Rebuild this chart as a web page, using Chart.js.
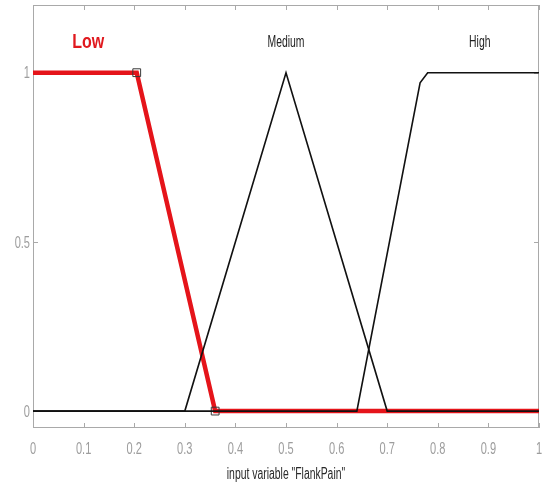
<!DOCTYPE html>
<html>
<head>
<meta charset="utf-8">
<script src="https://cdn.jsdelivr.net/npm/chart.js@4/dist/chart.umd.min.js"></script>
<style>
  body { margin: 0; background: #fff; }
  #wrap { width: 549px; height: 484px; }
</style>
</head>
<body>
<div id="wrap"><canvas id="mfChart" width="549" height="484"></canvas></div>
<script>
// membership functions of input "FlankPain"
const lowX = [0, 0.205, 0.36, 1];
const lowY = [1, 1, 0, 0];
const medX = [0, 0.3, 0.5, 0.7, 1];
const medY = [0, 0, 1, 0, 0];
const highX = [0, 0.64, 0.765, 0.78, 1];
const highY = [0, 0, 0.97, 1, 1];

const mfNames = ['Low', 'Medium', 'High'];
const mfLabelX = [0.109, 0.5, 0.883];
const mfLabelY = 1.09;

const xTicks = [0, 0.1, 0.2, 0.3, 0.4, 0.5, 0.6, 0.7, 0.8, 0.9, 1];
const yTicks = [0, 0.5, 1];
const xTitle = 'input variable "FlankPain"';

const FONT = "'Liberation Sans', Arial, sans-serif";
const SQUEEZE = 0.65;   // narrow, condensed lettering

function toPoints(xs, ys) {
    return xs.map((x, i) => ({ x: x, y: ys[i] }));
}

function narrowText(ctx, text, x, y, align, squeeze) {
    ctx.save();
    ctx.translate(x, y);
    ctx.scale(squeeze || SQUEEZE, 1);
    ctx.textAlign = align;
    ctx.textBaseline = 'middle';
    ctx.fillText(text, 0, 0);
    ctx.restore();
}

// box around the axes, inward tick marks on every side, and all the text
const framePlugin = {
    id: 'frame',
    beforeDatasetsDraw(chart) {
        const ctx = chart.ctx;
        const a = chart.chartArea;
        const sx = chart.scales.x, sy = chart.scales.y;
        ctx.save();
        ctx.strokeStyle = '#a9a9a9';
        ctx.lineWidth = 1;
        ctx.strokeRect(a.left + 0.5, a.top + 0.5, a.right - a.left - 1, a.bottom - a.top - 1);
        ctx.beginPath();
        xTicks.forEach(t => {
            const px = Math.round(sx.getPixelForValue(t)) + 0.5;
            ctx.moveTo(px, a.bottom); ctx.lineTo(px, a.bottom - 5);
            ctx.moveTo(px, a.top); ctx.lineTo(px, a.top + 5);
        });
        yTicks.forEach(t => {
            const py = Math.round(sy.getPixelForValue(t)) + 0.5;
            ctx.moveTo(a.left, py); ctx.lineTo(a.left + 5, py);
            ctx.moveTo(a.right, py); ctx.lineTo(a.right - 5, py);
        });
        ctx.stroke();

        // tick labels and axis title
        ctx.font = '17px ' + FONT;
        ctx.fillStyle = '#9d9d9d';
        xTicks.forEach(t => narrowText(ctx, String(t), sx.getPixelForValue(t), a.bottom + 21, 'center'));
        yTicks.forEach(t => narrowText(ctx, String(t), a.left - 3, sy.getPixelForValue(t) + 1, 'right'));
        ctx.fillStyle = '#2a2a2a';
        ctx.font = '16px ' + FONT;
        narrowText(ctx, xTitle, (a.left + a.right) / 2, a.bottom + 47, 'center');
        ctx.restore();
    },
    afterDatasetsDraw(chart) {
        const ctx = chart.ctx;
        const sx = chart.scales.x, sy = chart.scales.y;
        ctx.save();
        mfNames.forEach((name, i) => {
            const px = sx.getPixelForValue(mfLabelX[i]);
            const py = sy.getPixelForValue(mfLabelY);
            if (i === 0) {
                // the selected function is labelled larger, in bold red
                ctx.fillStyle = '#e0191e';
                ctx.font = 'bold 20px ' + FONT;
                narrowText(ctx, name, px, py, 'center', 0.8);
            } else {
                ctx.fillStyle = '#222';
                ctx.font = '16px ' + FONT;
                narrowText(ctx, name, px, py, 'center');
            }
        });
        ctx.restore();
    }
};

const markerRadius = (idx) => (ctx) => idx.includes(ctx.dataIndex) ? 5.5 : 0;

new Chart(document.getElementById('mfChart'), {
    type: 'scatter',
    data: {
        datasets: [
            {
                label: 'Low',
                data: toPoints(lowX, lowY),
                showLine: true,
                borderColor: '#e5141a',
                borderWidth: 4.5,
                order: 3,
                pointStyle: 'rect',
                pointRadius: markerRadius([1, 2]),
                pointBorderColor: '#3a3a3a',
                pointBorderWidth: 1,
                pointBackgroundColor: 'rgba(0,0,0,0)'
            },
            {
                label: 'Medium',
                data: toPoints(medX, medY),
                showLine: true,
                borderColor: '#111',
                borderWidth: 1.6,
                order: 1,
                pointRadius: 0
            },
            {
                label: 'High',
                data: toPoints(highX, highY),
                showLine: true,
                borderColor: '#111',
                borderWidth: 1.6,
                order: 2,
                pointRadius: 0
            }
        ]
    },
    options: {
        responsive: false,
        animation: false,
        layout: { padding: { left: 0, right: 10, top: 5, bottom: 0 } },
        plugins: {
            legend: { display: false },
            tooltip: { enabled: false }
        },
        scales: {
            x: {
                type: 'linear',
                min: 0,
                max: 1,
                afterFit: (scale) => { scale.height = 56; },
                grid: { display: false, drawTicks: false },
                border: { display: false },
                ticks: { display: false }
            },
            y: {
                type: 'linear',
                min: -0.05,
                max: 1.2,
                afterFit: (scale) => { scale.width = 33; },
                grid: { display: false, drawTicks: false },
                border: { display: false },
                ticks: { display: false }
            }
        }
    },
    plugins: [framePlugin]
});
</script>
</body>
</html>
